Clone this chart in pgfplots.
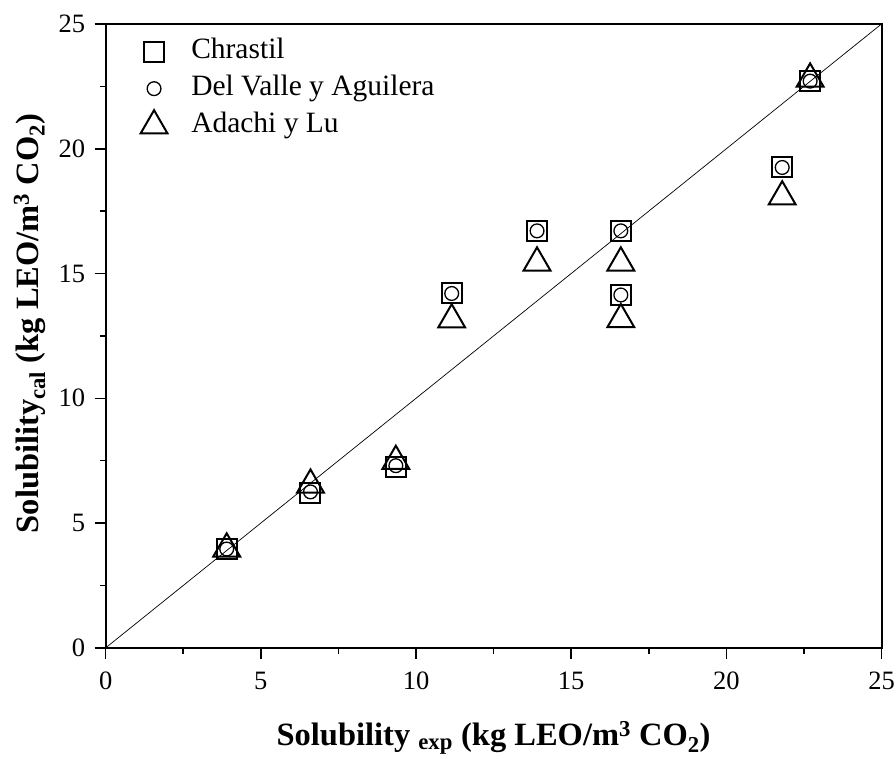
\documentclass[border=0pt]{standalone}
\usepackage{fontspec}
\setmainfont{Liberation Serif}
\usepackage{pgfplots}
\pgfplotsset{compat=1.18}

\begin{document}
\begin{tikzpicture}
\begin{axis}[
  scale only axis,
  width=776pt, height=624pt,
  xmin=0, xmax=25, ymin=0, ymax=25,
  xtick={0,5,...,25}, ytick={0,5,...,25},
  minor tick num=1,
  xtick pos=bottom, ytick pos=left,
  xtick align=outside, ytick align=outside,
  major tick length=11pt, minor tick length=6pt,
  axis line style={line width=2pt},
  every tick/.style={black, line width=1.6pt},
  /pgf/number format/assume math mode=true,
  ticklabel style={font=\fontsize{26.5}{26.5}\selectfont},
  xticklabel style={yshift=-10pt},
  yticklabel style={xshift=-6pt},
  label style={font=\fontsize{32.5}{32.5}\selectfont\bfseries},
  xlabel={Solubility \textsubscript{exp} (kg LEO/m\textsuperscript{3} CO\textsubscript{2})},
  ylabel={Solubility\textsubscript{cal} (kg LEO/m\textsuperscript{3} CO\textsubscript{2})},
  xlabel style={at={(axis description cs:0.5,0)}, anchor=center, yshift=-90pt},
  ylabel style={at={(axis description cs:0,0.52)}, anchor=center, yshift=76pt},
  legend style={at={(rel axis cs:0,1)}, anchor=north west, xshift=30pt, yshift=-10pt,
    draw=none, fill=none, font=\fontsize{29.5}{29.5}\selectfont,
    nodes={inner sep=2pt, text height=20pt, text depth=7pt},
    column sep=20pt, row sep=6pt, cells={anchor=west}},
  legend image code/.code={
    \path (-15pt,0pt) (15pt,0pt);
    \draw[#1] plot coordinates {(0pt,0pt)};},
]
% parity line
\addplot[forget plot, black, line width=0.7pt] coordinates {(0,0) (25,25)};

\addplot[only marks, mark=square, mark size=10pt,
  mark options={draw=black, fill=white, line width=2pt}] coordinates {
  (3.9,3.96) (6.6,6.22) (9.35,7.24) (11.15,14.2) (13.9,16.71)
  (16.6,16.71) (16.6,14.14) (21.8,19.25) (22.7,22.71)};
\addlegendentry{Chrastil}

\addplot[only marks, mark=o, mark size=6.9pt,
  mark options={draw=black, fill=white, line width=1.3pt}] coordinates {
  (3.9,3.96) (6.6,6.25) (9.35,7.3) (11.15,14.2) (13.9,16.71)
  (16.6,16.71) (16.6,14.14) (21.8,19.25) (22.7,22.71)};
\addlegendentry{Del Valle y Aguilera}

\addplot[only marks, mark=triangle, mark size=15.5pt,
  mark options={draw=black, fill=white, line width=2pt}] coordinates {
  (3.9,3.97) (6.6,6.53) (9.35,7.48) (11.15,13.15) (13.9,15.43)
  (16.6,15.43) (16.6,13.16) (21.8,18.08) (22.7,22.8)};
\addlegendentry{Adachi y Lu}
\end{axis}
\pgfresetboundingbox
\path[use as bounding box] (current axis.south west) ++(-105.7pt,-110.3pt)
  rectangle ([shift={(14.5pt,24pt)}]current axis.north east);
\end{tikzpicture}
\end{document}
